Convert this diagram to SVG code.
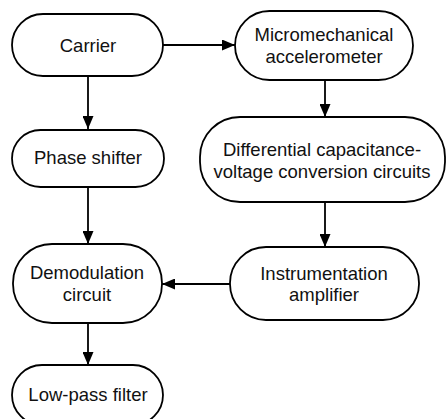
<svg xmlns="http://www.w3.org/2000/svg" width="446" height="419" viewBox="0 0 446 419">
<defs>
<marker id="ah" markerWidth="13" markerHeight="11" refX="13" refY="5.5" orient="auto" markerUnits="userSpaceOnUse">
<path d="M0,0 L13,5.5 L0,11 Z" fill="#000"/>
</marker>
<style>
.n rect{fill:#fff;stroke:#000;stroke-width:1.8}
.n text{font-family:"Liberation Sans",Arial,sans-serif;font-size:18.5px;fill:#111;text-anchor:middle}
.c line{stroke:#000;stroke-width:1.8;marker-end:url(#ah)}
</style>
</defs>
<rect width="446" height="419" fill="#fff"/>
<g class="c" id="connectors">
<line x1="163" y1="45" x2="235" y2="45"/>
<line x1="88" y1="76" x2="88" y2="129"/>
<line x1="325" y1="80" x2="325" y2="117"/>
<line x1="88" y1="187" x2="88" y2="244"/>
<line x1="325" y1="202" x2="325" y2="247"/>
<line x1="230" y1="284" x2="162" y2="284"/>
<line x1="88" y1="323" x2="88" y2="365"/>
</g>
<g class="n" id="carrier">
<rect x="12" y="14" width="151" height="62" rx="31"/>
<text x="88" y="52">Carrier</text>
</g>
<g class="n" id="accelerometer">
<rect x="235" y="11" width="178" height="69" rx="34.5"/>
<text x="324" y="41">Micromechanical</text>
<text x="324" y="63">accelerometer</text>
</g>
<g class="n" id="phase">
<rect x="12" y="130" width="152" height="57" rx="28.5"/>
<text x="88" y="164">Phase shifter</text>
</g>
<g class="n" id="cv">
<rect x="200" y="117" width="245" height="85" rx="40"/>
<text x="322" y="156">Differential capacitance-</text>
<text x="322" y="178">voltage conversion circuits</text>
</g>
<g class="n" id="demod">
<rect x="13" y="244" width="149" height="79" rx="39"/>
<text x="87" y="279">Demodulation</text>
<text x="87" y="301">circuit</text>
</g>
<g class="n" id="amp">
<rect x="230" y="247" width="189" height="73" rx="36"/>
<text x="324" y="280">Instrumentation</text>
<text x="324" y="301">amplifier</text>
</g>
<g class="n" id="lpf">
<rect x="12" y="365" width="151" height="60" rx="30"/>
<text x="88" y="401">Low-pass filter</text>
</g>
</svg>
